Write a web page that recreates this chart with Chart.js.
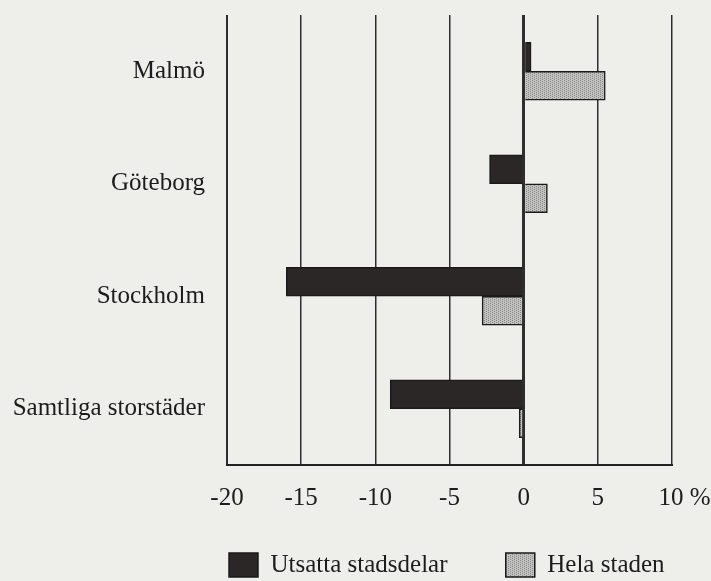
<!DOCTYPE html>
<html><head><meta charset="utf-8">
<script src="https://cdn.jsdelivr.net/npm/chart.js@4"></script>
<style>html,body{margin:0;padding:0;background:#eeeeea;} canvas{display:block}</style>
</head><body>
<canvas id="c" width="711" height="581"></canvas>
<script>
const categories = ['Malmö', 'Göteborg', 'Stockholm', 'Samtliga storstäder'];
const seriesNames = ['Utsatta stadsdelar', 'Hela staden'];
const utsatta = [0.5, -2.3, -16, -9];
const helaStaden = [5.5, 1.6, -2.8, -0.3];
const xTickLabels = ['-20', '-15', '-10', '-5', '0', '5', '10 %'];

const canvas = document.getElementById('c');
const ctx = canvas.getContext('2d');

function makePattern() {
  const p = document.createElement('canvas');
  p.width = 4; p.height = 4;
  const g = p.getContext('2d');
  g.fillStyle = '#c2c2c0';
  g.fillRect(0, 0, 4, 4);
  g.fillStyle = '#888888';
  g.fillRect(0, 0, 1, 1); g.fillRect(2, 1, 1, 1);
  g.fillRect(0, 2, 1, 1); g.fillRect(2, 3, 1, 1);
  return ctx.createPattern(p, 'repeat');
}
const dotted = makePattern();
const textColor = '#1c1c1c';
const font = { family: "'Liberation Serif', 'Times New Roman', serif", size: 25 };

new Chart(ctx, {
  type: 'bar',
  data: {
    labels: categories,
    datasets: [
      { label: seriesNames[0], data: utsatta, backgroundColor: '#2b2727', borderColor: '#1a1a1a', borderWidth: 1.5, barThickness: 29 },
      { label: seriesNames[1], data: helaStaden, backgroundColor: dotted, borderColor: '#1a1a1a', borderWidth: 1.5, barThickness: 29 }
    ]
  },
  options: {
    indexAxis: 'y',
    responsive: false,
    animation: false,
    layout: { padding: { top: 15, right: 39, bottom: -6.5, left: 0 } },
    plugins: {
      tooltip: { enabled: false },
      legend: {
        position: 'bottom',
        fullSize: false,
        align: 'start',
        labels: {
          boxWidth: 29, boxHeight: 24, padding: 2, color: textColor, font: font,
          generateLabels: chart => {
            const items = Chart.defaults.plugins.legend.labels.generateLabels(chart);
            items[0].text = items[0].text + '         ';
            return items;
          }
        }
      }
    },
    scales: {
      x: {
        min: -20, max: 10,
        ticks: {
          stepSize: 5, padding: 18, color: textColor, font: font,
          maxRotation: 0, minRotation: 0, autoSkip: false,
          callback: (v, i) => i === xTickLabels.length - 1 ? '    ' + xTickLabels[i] : xTickLabels[i]
        },
        grid: { color: '#2e2e2e', lineWidth: c => (c.tick && c.tick.value === 0) ? 3 : (c.tick && c.tick.value === -20 ? 2 : 1.5), drawTicks: false },
        border: { display: true, color: '#222', width: 2 },
        afterFit: s => { s.height = 85.5; s.paddingRight = 0; }
      },
      y: {
        grid: { display: false, drawTicks: false },
        border: { display: false },
        ticks: { padding: 22, color: textColor, font: font },
        afterFit: s => { s.width = 227; s.paddingTop = 0; s.paddingBottom = 0; }
      }
    }
  }
});
</script>
</body></html>
